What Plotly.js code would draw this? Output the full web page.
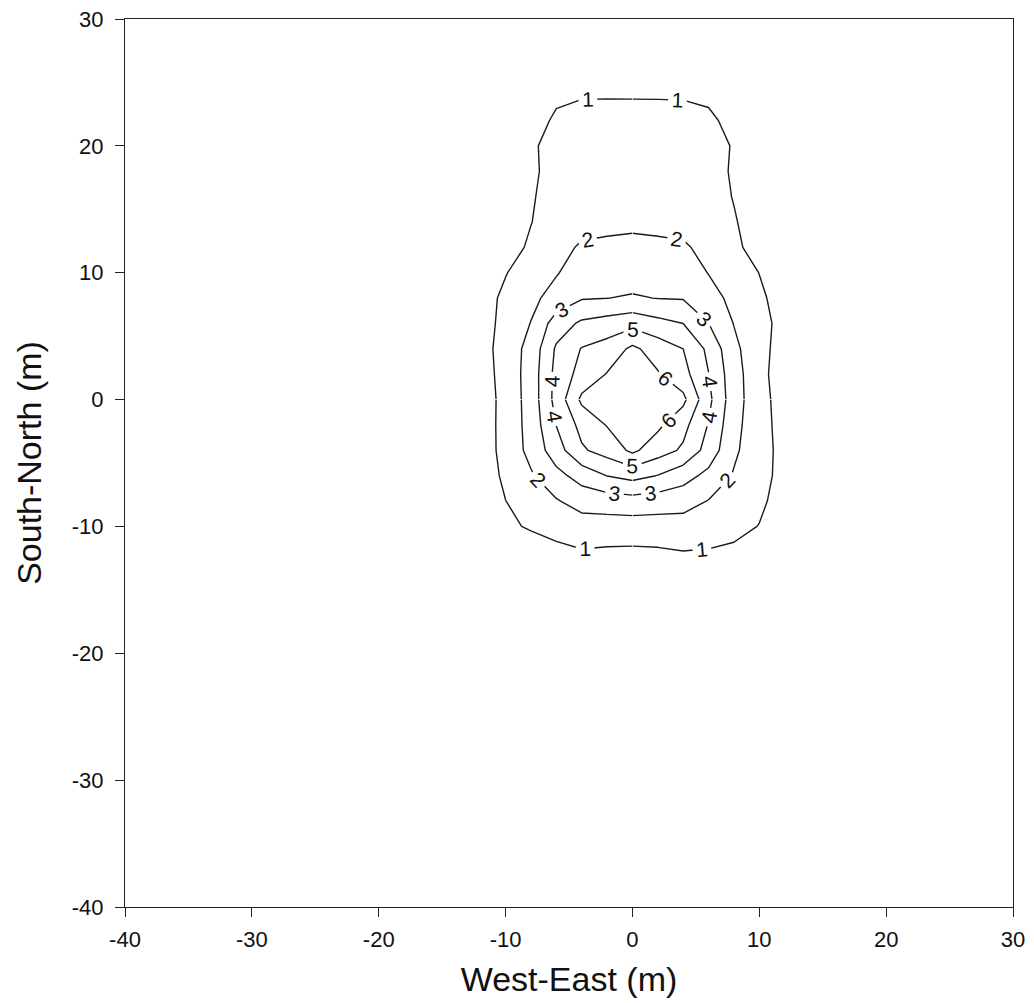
<!DOCTYPE html>
<html>
<head>
<meta charset="utf-8">
<script src="https://cdn.plot.ly/plotly-3.0.1.min.js"></script>
<style>
  html, body { margin: 0; padding: 0; background: #ffffff; }
  #chart { width: 1034px; height: 1003px; }
</style>
</head>
<body>
<div id="chart"></div>
<script>
// Grid node positions (m)
const xNodes = [-16, -12, -10, -8, -6, -4, -2, 0, 2, 4, 6, 8, 10, 12, 16];
const yNodes = [-16, -12, -10, -8, -6, -4, -2, 0, 2, 4, 6, 8, 10, 12, 14, 16, 18, 20, 22, 24, 28];

// Values at each grid row (estimated from the contour positions in the picture)
const rowYm16 = [0, 0, 0, 0, 0, 0, 0, 0, 0, 0, 0, 0, 0, 0, 0];
const rowYm12 = [0, 0.4, 0.6, 0.67, 0.76, 0.93, 0.86, 0.84, 0.88, 0.98, 0.94, 0.88, 0.7, 0.4, 0];
const rowYm10 = [0, 0.5, 0.88, 1.07, 1.34, 1.56, 1.56, 1.56, 1.56, 1.58, 1.45, 1.2, 0.98, 0.5, 0];
const rowYm8  = [0, 0.3, 0.99, 1.45, 1.92, 2.39, 2.49, 2.59, 2.49, 2.39, 1.96, 1.53, 1.13, 0.72, 0];
const rowYm6  = [0, 0.46, 1.18, 1.89, 2.69, 3.4, 4.02, 4.33, 3.97, 3.39, 2.73, 1.92, 1.31, 0.71, 0];
const rowYm4  = [0, 0.45, 1.33, 2.29, 3.55, 4.87, 5.4, 6.2, 5.45, 4.85, 3.6, 2.17, 1.38, 0.69, 0];
const rowYm2  = [0, 0.46, 1.34, 2.36, 4.02, 5.31, 6.05, 8.4, 6.2, 5.31, 3.94, 2.3, 1.38, 0.62, 0];
const rowY0   = [0, 0.45, 1.33, 2.41, 4.34, 6.2, 8.3, 10.4, 8.4, 6.25, 4.25, 2.42, 1.375, 0.54, 0];
const rowY2   = [0, 0.53, 1.37, 2.43, 4.31, 5.36, 6.05, 8.4, 6.08, 5.35, 4.02, 2.4, 1.32, 0.44, 0];
const rowY4   = [0, 0.6, 1.4, 2.35, 4.14, 5.05, 5.4, 6.2, 5.56, 5.0, 3.78, 2.23, 1.34, 0.55, 0];
const rowY6   = [0, 0.57, 1.29, 2.03, 3.48, 4.17, 4.42, 4.69, 4.3, 4.0, 3.01, 1.97, 1.32, 0.68, 0];
const rowY8   = [0, 0.6, 1.19, 1.76, 2.38, 2.93, 2.99, 3.08, 2.98, 2.94, 2.38, 1.74, 1.17, 0.6, 0];
const rowY10  = [0, 0.5, 0.96, 1.45, 1.93, 2.5, 2.57, 2.61, 2.57, 2.51, 1.97, 1.5, 0.985, 0.5, 0];
const rowY12  = [0, 0.2, 0.42, 1.21, 1.81, 2.07, 2.14, 2.2, 2.14, 2.08, 1.82, 1.33, 0.39, 0.2, 0];
const rowY14  = [0, 0.15, 0.4, 0.965, 1.64, 1.8, 1.82, 1.84, 1.82, 1.8, 1.65, 1.1, 0.4, 0.15, 0];
const rowY16  = [0, 0.1, 0.35, 0.88, 1.51, 1.68, 1.7, 1.72, 1.7, 1.68, 1.52, 0.945, 0.35, 0.1, 0];
const rowY18  = [0, 0.1, 0.3, 0.82, 1.36, 1.5, 1.52, 1.53, 1.51, 1.5, 1.37, 0.89, 0.3, 0.1, 0];
const rowY20  = [0, 0.1, 0.3, 0.91, 1.22, 1.33, 1.34, 1.35, 1.33, 1.32, 1.22, 0.958, 0.3, 0.1, 0];
const rowY22  = [0, 0.1, 0.3, 0.81, 1.07, 1.15, 1.154, 1.16, 1.147, 1.143, 1.076, 0.88, 0.3, 0.1, 0];
const rowY24  = [0, 0.05, 0.25, 0.75, 0.92, 0.97, 0.973, 0.97, 0.97, 0.965, 0.927, 0.75, 0.25, 0.05, 0];
const rowY28  = [0, 0.05, 0.15, 0.4, 0.55, 0.6, 0.6, 0.6, 0.6, 0.6, 0.55, 0.4, 0.15, 0.05, 0];

// Contour levels
const outerLevels = { start: 1, end: 4, size: 1 };
const innerLevels = { start: 5, end: 6, size: 1 };

// Axis ticks
const xTickVals = [-40, -30, -20, -10, 0, 10, 20, 30];
const xTickText = ["-40", "-30", "-20", "-10", "0", "10", "20", "30"];
const yTickVals = [-40, -30, -20, -10, 0, 10, 20, 30];
const yTickText = ["-40", "-30", "-20", "-10", "0", "10", "20", "30"];

const zGrid = [rowYm16, rowYm12, rowYm10, rowYm8, rowYm6, rowYm4, rowYm2, rowY0,
               rowY2, rowY4, rowY6, rowY8, rowY10, rowY12, rowY14, rowY16,
               rowY18, rowY20, rowY22, rowY24, rowY28];

const fontFam = "Liberation Sans, Arial, Helvetica, sans-serif";

// The grid is drawn in pieces that share their border rows/columns, so that
// each contour line gets several labels (as in the original figure).
const iy0 = yNodes.indexOf(0);
const ix0 = xNodes.indexOf(0);
const nR = yNodes.length - 1;
const nC = xNodes.length - 1;

function piece(r0, r1, c0, c1, levels) {
  return {
    type: "contour",
    x: xNodes.slice(c0, c1 + 1),
    y: yNodes.slice(r0, r1 + 1),
    z: zGrid.slice(r0, r1 + 1).map(function (row) { return row.slice(c0, c1 + 1); }),
    autocontour: false,
    contours: {
      start: levels.start,
      end: levels.end,
      size: levels.size,
      coloring: "none",
      showlabels: true,
      labelfont: { family: fontFam, size: 21, color: "#111111" }
    },
    line: { color: "#1a1a1a", width: 1.4, smoothing: 0 },
    showscale: false,
    hoverinfo: "skip"
  };
}

const traces = [
  piece(0, iy0, 0, ix0, outerLevels),     // south-west
  piece(0, iy0, ix0, nC, outerLevels),    // south-east
  piece(iy0, nR, 0, ix0, outerLevels),    // north-west
  piece(iy0, nR, ix0, nC, outerLevels),   // north-east
  piece(0, iy0, 0, nC, innerLevels),      // south half
  piece(iy0, nR, 0, nC, innerLevels)      // north half
];

const axisCommon = {
  showgrid: false,
  zeroline: false,
  showline: true,
  linecolor: "#222222",
  linewidth: 1,
  mirror: true,
  ticks: "outside",
  ticklen: 9,
  tickwidth: 1,
  tickcolor: "#222222",
  tickfont: { family: fontFam, size: 22, color: "#111111" }
};

const layout = {
  width: 1034,
  height: 1003,
  margin: { l: 125, r: 21, t: 19, b: 96 },
  paper_bgcolor: "#ffffff",
  plot_bgcolor: "#ffffff",
  showlegend: false,
  xaxis: Object.assign({}, axisCommon, {
    range: [-40, 30],
    tickmode: "array",
    tickvals: xTickVals,
    ticktext: xTickText,
    ticklabelstandoff: 4,
    title: { text: "West-East (m)", font: { family: fontFam, size: 34, color: "#111111" }, standoff: 15 }
  }),
  yaxis: Object.assign({}, axisCommon, {
    range: [-40, 30],
    tickmode: "array",
    tickvals: yTickVals,
    ticktext: yTickText,
    ticklabelstandoff: 7,
    title: { text: "South-North (m)", font: { family: fontFam, size: 34, color: "#111111" }, standoff: 19 }
  })
};

Plotly.newPlot("chart", traces, layout, { displayModeBar: false, staticPlot: true });
</script>
</body>
</html>
